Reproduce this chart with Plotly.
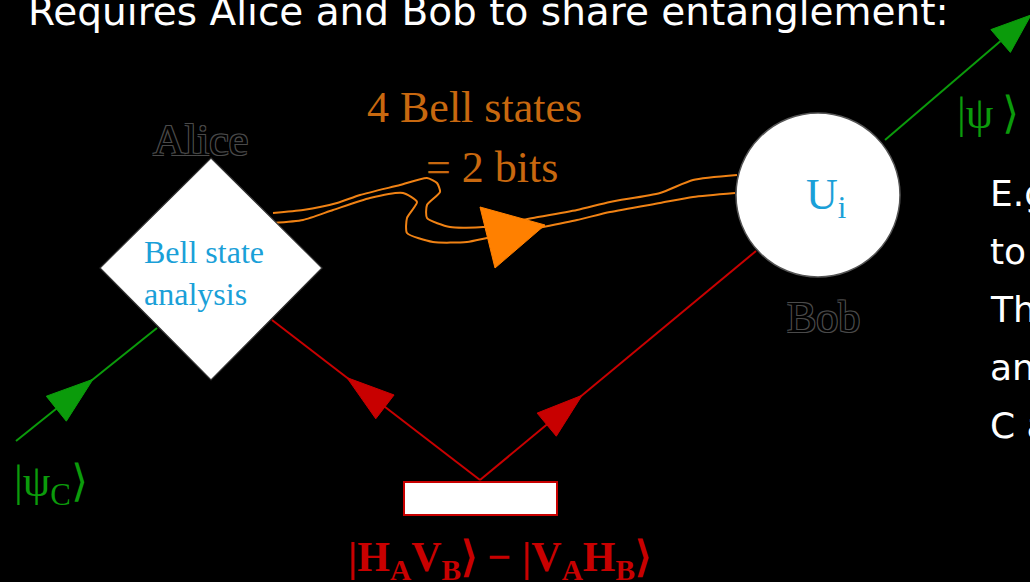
import numpy as np
import plotly.graph_objects as go

# ---------------- diagram data (pixel coordinates, y downward) ----------------
alice_diamond_x = [211, 322, 211, 100]
alice_diamond_y = [158, 268, 380, 268]
bob_circle_x = [736, 900]
bob_circle_y = [113, 277]
source_box_x = [404, 557]
source_box_y = [482, 515]

green_in_x = [16, 157]
green_in_y = [441, 328]
green_out_x = [885, 1031]
green_out_y = [140, 15]
red_left_x = [480, 272]
red_left_y = [480, 320]
red_right_x = [480, 756]
red_right_y = [480, 251]

# arrow tip position (fraction along each line)
arrow_tip_t = {"green_in": 0.546, "green_out": 1.0, "red_left": 0.64, "red_right": 0.37}

# classical channel (wavy double line)
orange_upper_x = [273, 303, 337, 360, 400, 427, 437, 440, 427, 427, 450, 483, 533, 577, 610, 660, 693, 737]
orange_upper_y = [213, 210, 203, 195, 185, 178, 183, 192, 205, 218, 227, 227, 218, 210, 202, 193, 180, 175]
orange_lower_x = [273, 303, 333, 370, 403, 417, 407, 407, 433, 467, 487, 543, 577, 610, 660, 693, 735]
orange_lower_y = [223, 220, 210, 198, 193, 202, 218, 233, 242, 242, 238, 227, 220, 212, 203, 197, 193]
orange_head_x = [480, 545, 495]
orange_head_y = [207, 225, 268]

title_text = "Requires Alice and Bob to share entanglement:"
side_lines = [
    "E.g. if Alice finds |ψ⁻⟩, Bob",
    "to recover |ψ⟩ does nothing.",
    "This is because B is then",
    "an identical state to photon",
    "C and teleportation is done.",
]
side_baselines = [207, 265, 322, 380, 438]

GREEN = "#0b9b0b"
RED = "#c80000"
ORANGE = "#ff8000"
ORANGE_TXT = "#c8680f"
CYAN = "#1aa0d8"
SERIF = "Liberation Serif"
SANS = "DejaVu Sans"

fig = go.Figure()


def add_line(xs, ys, color, width):
    fig.add_trace(go.Scatter(x=xs, y=ys, mode="lines", line=dict(color=color, width=width),
                             hoverinfo="skip", showlegend=False))


def add_poly(xs, ys, color):
    fig.add_trace(go.Scatter(x=list(xs) + [xs[0]], y=list(ys) + [ys[0]], mode="lines",
                             fill="toself", fillcolor=color, line=dict(color=color, width=1),
                             hoverinfo="skip", showlegend=False))


def arrow_head(xs, ys, t, length, half):
    p0 = np.array([xs[0], ys[0]], float)
    p1 = np.array([xs[1], ys[1]], float)
    d = p1 - p0
    u = d / np.linalg.norm(d)
    n = np.array([-u[1], u[0]])
    tip = p0 + t * d
    base = tip - length * u
    a = base + half * n
    b = base - half * n
    return [tip[0], a[0], b[0]], [tip[1], a[1], b[1]], base


# green input
add_line(green_in_x, green_in_y, GREEN, 2)
hx, hy, _ = arrow_head(green_in_x, green_in_y, arrow_tip_t["green_in"], 47, 16)
add_poly(hx, hy, GREEN)

# green output
hx, hy, base = arrow_head(green_out_x, green_out_y, arrow_tip_t["green_out"], 40, 15)
add_line([green_out_x[0], base[0]], [green_out_y[0], base[1]], GREEN, 2)
add_poly(hx, hy, GREEN)

# red entangled pair
add_line(red_left_x, red_left_y, RED, 2)
hx, hy, _ = arrow_head(red_left_x, red_left_y, arrow_tip_t["red_left"], 48, 15)
add_poly(hx, hy, RED)
add_line(red_right_x, red_right_y, RED, 2)
hx, hy, _ = arrow_head(red_right_x, red_right_y, arrow_tip_t["red_right"], 46, 15)
add_poly(hx, hy, RED)

# orange classical channel
for xs, ys in ((orange_upper_x, orange_upper_y), (orange_lower_x, orange_lower_y)):
    fig.add_trace(go.Scatter(x=xs, y=ys, mode="lines",
                             line=dict(color="#f08214", width=2, shape="spline", smoothing=0.6),
                             hoverinfo="skip", showlegend=False))
add_poly(orange_head_x, orange_head_y, ORANGE)

# nodes
path = "M " + " L ".join(f"{x},{y}" for x, y in zip(alice_diamond_x, alice_diamond_y)) + " Z"
fig.add_shape(type="path", path=path, xref="x", yref="y", fillcolor="white",
              line=dict(color="#333333", width=1.2), layer="above")
fig.add_shape(type="circle", xref="x", yref="y", x0=bob_circle_x[0], x1=bob_circle_x[1],
              y0=bob_circle_y[0], y1=bob_circle_y[1], fillcolor="white",
              line=dict(color="#555555", width=1.5), layer="above")
fig.add_shape(type="rect", xref="x", yref="y", x0=source_box_x[0], x1=source_box_x[1],
              y0=source_box_y[0], y1=source_box_y[1], fillcolor="white",
              line=dict(color=RED, width=2), layer="above")


def ann(text, x, y, size, color, family, xanchor="center", align="center", shadow=None):
    f = dict(size=size, color=color, family=family)
    if shadow:
        f["shadow"] = shadow
    fig.add_annotation(text=text, x=x, y=y, xref="x", yref="y", showarrow=False,
                       xanchor=xanchor, yanchor="middle", align=align, font=f)


outline = "-1px -1px 0 #4a4a4a, 1px -1px 0 #4a4a4a, -1px 1px 0 #4a4a4a, 1px 1px 0 #4a4a4a"

ann(title_text, 26, 11, 39, "white", SANS, xanchor="left", align="left")
for line, b in zip(side_lines, side_baselines):
    ann(line, 988, b - 13, 36, "white", SANS, xanchor="left", align="left")

ann("Alice", 200, 140, 44, "black", SERIF, shadow=outline)
ann("Bob", 823, 317, 44, "black", SERIF, shadow=outline)
ann("4 Bell states", 474, 107, 44, ORANGE_TXT, SERIF)
ann("= 2 bits", 492, 167, 44, ORANGE_TXT, SERIF)
ann("Bell state<br>analysis", 142, 273, 32, CYAN, SERIF, xanchor="left", align="left")
ann("U<sub>i</sub>", 826, 197, 44, CYAN, SERIF)
ann("|ψ<sub>C</sub>⟩", 12, 484, 44, GREEN, SERIF, xanchor="left", align="left")
ann("|ψ\u2009⟩", 955, 113, 44, GREEN, SERIF, xanchor="left", align="left")
ann("<b>|H<sub>A</sub>V<sub>B</sub>⟩ − |V<sub>A</sub>H<sub>B</sub>⟩</b>", 499, 560, 42, RED, SERIF)

fig.update_layout(
    width=1030, height=582, autosize=False,
    margin=dict(l=0, r=0, t=0, b=0, pad=0),
    paper_bgcolor="black", plot_bgcolor="black",
    xaxis=dict(range=[0, 1030], visible=False, fixedrange=True),
    yaxis=dict(range=[582, 0], visible=False, fixedrange=True),
    showlegend=False,
)

fig.write_html(
    "out.html",
    config={"displayModeBar": False, "staticPlot": True},
    post_script="document.body.style.margin='0';document.body.style.background='black';"
                "document.body.style.overflow='hidden';",
)
